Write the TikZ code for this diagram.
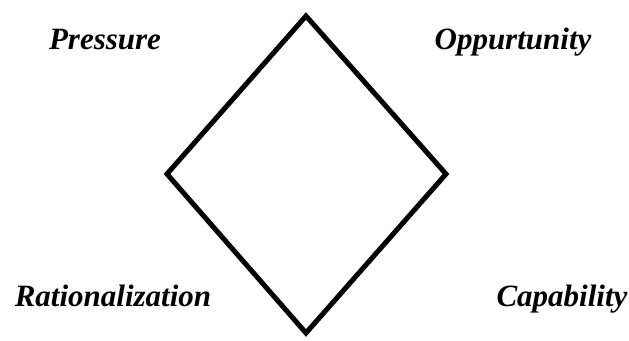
\documentclass[tikz,border=0pt]{standalone}
\usepackage{fontspec}
\setmainfont{Liberation Serif}
\usetikzlibrary{positioning}

\begin{document}
\begin{tikzpicture}[
    x=1pt, y=-1pt,
    every node/.style={inner sep=0pt, anchor=base, font=\fontsize{31}{36}\selectfont\bfseries\itshape},
    edge/.style={line width=5pt, miter limit=20}
]
    \useasboundingbox (0,0) rectangle (629,340);

    % corners of the diamond
    \coordinate (top) at (306,16);
    \coordinate (left) at (167,174);
    \coordinate (right) at (446,174);
    \coordinate (bottom) at (306,333);

    \draw[edge] (top) -- (right) -- (bottom) -- (left) -- cycle;

    % labels
    \node (pressure) at (105,49) {Pressure};
    \node (oppurtunity) at (513,49) {Oppurtunity};
    \node (rational) at (113,306) {Rationalization};
    \node (capability) at (562,306) {Capability};
\end{tikzpicture}
\end{document}
